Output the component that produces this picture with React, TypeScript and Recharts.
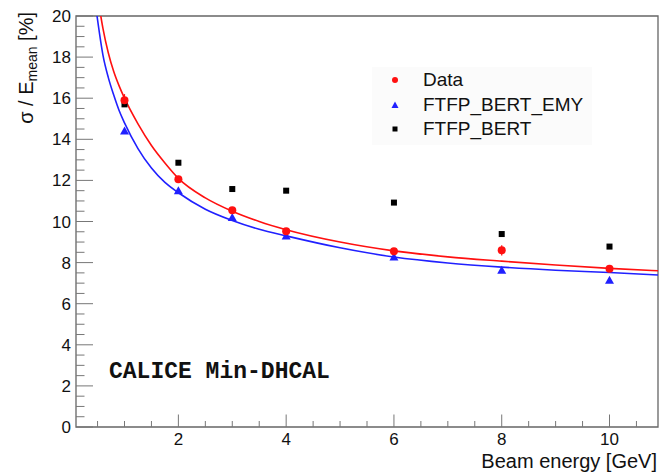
import { ComposedChart, Line, Scatter, XAxis, YAxis, ReferenceArea, Legend, ErrorBar } from 'recharts';

// measured points
const energies = [1, 2, 3, 4, 6, 8, 10];
const dataValues = [15.9, 12.05, 10.55, 9.52, 8.55, 8.6, 7.7];
const dataErrors = [0.3, 0.12, 0.12, 0.12, 0.12, 0.25, 0.12];
const emyValues = [14.4, 11.5, 10.2, 9.3, 8.27, 7.63, 7.14];
const bertValues = [15.7, 12.86, 11.58, 11.5, 10.92, 9.39, 8.78];

// fit curves
const fitDataE = [0.56, 0.6, 0.7, 0.8, 0.9, 1, 1.25, 1.5, 1.75, 2, 2.5, 3, 3.5, 4, 5, 6, 7, 8, 9, 10, 10.9];
const fitDataV = [20, 19.4, 18.2, 17.3, 16.6, 16.0, 14.75, 13.7, 12.85, 12.1, 11.15, 10.5, 10.0, 9.6, 9.0, 8.57, 8.28, 8.07, 7.88, 7.72, 7.6];
const fitEmyE = [0.49, 0.6, 0.7, 0.8, 0.9, 1, 1.25, 1.5, 1.75, 2, 2.5, 3, 3.5, 4, 5, 6, 7, 8, 9, 10, 10.9];
const fitEmyV = [20, 18.1, 17.0, 16.15, 15.4, 14.8, 13.55, 12.6, 11.9, 11.4, 10.6, 10.05, 9.62, 9.3, 8.72, 8.27, 7.98, 7.78, 7.63, 7.52, 7.4];

const majorX = [2, 4, 6, 8, 10];
const xTicks = [0.5, 1, 1.5, 2, 2.5, 3, 3.5, 4, 4.5, 5, 5.5, 6, 6.5, 7, 7.5, 8, 8.5, 9, 9.5, 10, 10.5];
const majorY = [0, 2, 4, 6, 8, 10, 12, 14, 16, 18, 20];
const yTicks = majorY.flatMap((v) => (v < 20 ? [v, v + 0.5, v + 1, v + 1.5] : [v]));

const RED = '#ff1010';
const BLUE = '#2020ff';
const FONT = '"Liberation Sans", Arial, sans-serif';

const dataPts = energies.map((x, i) => ({ x, y: dataValues[i], err: dataErrors[i] }));
const emyPts = energies.map((x, i) => ({ x, y: emyValues[i] }));
const bertPts = energies.map((x, i) => ({ x, y: bertValues[i] }));
const fitDataPts = fitDataE.map((x, i) => ({ x, y: fitDataV[i] }));
const fitEmyPts = fitEmyE.map((x, i) => ({ x, y: fitEmyV[i] }));

const XTick = (props: any) => {
  const { x, y, payload } = props;
  const major = majorX.includes(payload.value);
  const axisY = y - 7;
  return (
    <g>
      <line x1={x} x2={x} y1={axisY} y2={axisY - (major ? 12.5 : 6)} stroke="#777" />
      {major && (
        <text x={x} y={axisY + 18} textAnchor="middle" fontSize={17} fill="#111" fontFamily={FONT}>
          {payload.value}
        </text>
      )}
    </g>
  );
};

const YTick = (props: any) => {
  const { x, y, payload } = props;
  const major = majorY.includes(payload.value);
  const axisX = x + 5;
  return (
    <g>
      <line x1={axisX} x2={axisX + (major ? 17 : 8.5)} y1={y} y2={y} stroke="#777" />
      {major && (
        <text x={x} y={y + 6} textAnchor="end" fontSize={17} fill="#111" fontFamily={FONT}>
          {payload.value}
        </text>
      )}
    </g>
  );
};

const circleShape = (p: any) => <circle cx={p.cx} cy={p.cy} r={4} fill={RED} />;
const triShape = (p: any) => (
  <polygon points={`${p.cx - 4.5},${p.cy + 3.5} ${p.cx + 4.5},${p.cy + 3.5} ${p.cx},${p.cy - 4.5}`} fill={BLUE} />
);
const squareShape = (p: any) => <rect x={p.cx - 3} y={p.cy - 3} width={6} height={6} fill="#000" />;

const legendRows = [
  { name: 'Data', marker: <circle cx={8} cy={8} r={3} fill={RED} /> },
  { name: 'FTFP_BERT_EMY', marker: <polygon points="4.5,11 11.5,11 8,4.5" fill={BLUE} /> },
  { name: 'FTFP_BERT', marker: <rect x={5.5} y={5.5} width={5} height={5} fill="#000" /> },
];

const renderLegend = () => (
  <div style={{ background: '#fbfbfb', width: 220, height: 78, paddingTop: 1, boxSizing: 'border-box' }}>
    {legendRows.map((r) => (
      <div key={r.name} style={{ display: 'flex', alignItems: 'center', height: 24.5 }}>
        <svg width={16} height={16} style={{ marginLeft: 15, marginRight: 20 }}>
          {r.marker}
        </svg>
        <span style={{ fontFamily: FONT, fontSize: 19, color: '#111', lineHeight: '24px' }}>{r.name}</span>
      </div>
    ))}
  </div>
);

const yLabel = () => (
  <text transform="translate(33, 12) rotate(-90)" textAnchor="end" fontFamily={FONT} fontSize={20} fill="#111">
    σ / E<tspan fontSize={14} dy={4}>mean</tspan>
    <tspan dy={-4}> [%]</tspan>
  </text>
);

const xLabel = () => (
  <text x={657} y={468} textAnchor="end" fontFamily={FONT} fontSize={20} fill="#111">
    Beam energy [GeV]
  </text>
);

export default function App() {
  return (
    <div style={{ position: 'absolute', left: 0, top: 0, width: 660, height: 474, background: '#fff' }}>
      <ComposedChart width={660} height={474} margin={{ top: 16, right: 2, bottom: 0, left: 0 }}>
        <XAxis
          type="number"
          dataKey="x"
          domain={[0.1, 10.9]}
          allowDataOverflow
          ticks={xTicks}
          interval={0}
          tick={XTick}
          tickLine={false}
          axisLine={false}
          tickSize={0}
          tickMargin={7}
          height={47}
          label={{ content: xLabel }}
        />
        <YAxis
          type="number"
          dataKey="y"
          domain={[0, 20]}
          allowDataOverflow
          ticks={yTicks}
          interval={0}
          tick={YTick}
          tickLine={false}
          axisLine={false}
          tickSize={0}
          tickMargin={5}
          width={76}
          label={{ content: yLabel }}
        />
        <ReferenceArea x1={0.1} x2={10.9} y1={0} y2={20} fill="none" stroke="#666" strokeWidth={1.3} />
        <Line data={fitDataPts} dataKey="y" type="monotone" stroke={RED} strokeWidth={1.6} dot={false} isAnimationActive={false} legendType="none" />
        <Line data={fitEmyPts} dataKey="y" type="monotone" stroke={BLUE} strokeWidth={1.6} dot={false} isAnimationActive={false} legendType="none" />
        <Scatter data={bertPts} dataKey="y" shape={squareShape} isAnimationActive={false} />
        <Scatter data={emyPts} dataKey="y" shape={triShape} isAnimationActive={false} />
        <Scatter data={dataPts} dataKey="y" shape={circleShape} isAnimationActive={false}>
          <ErrorBar dataKey="err" direction="y" width={0} stroke={RED} strokeWidth={1.2} />
        </Scatter>
        <Legend
          layout="vertical"
          align="center"
          verticalAlign="middle"
          content={renderLegend}
          wrapperStyle={{ left: 372, top: 67, width: 220, height: 78 }}
        />
      </ComposedChart>
      <div
        style={{
          position: 'absolute',
          left: 109,
          top: 361,
          fontFamily: '"Liberation Mono", "Courier New", monospace',
          fontWeight: 'bold',
          fontSize: 23,
          lineHeight: '23px',
          color: '#111',
          whiteSpace: 'nowrap',
        }}
      >
        CALICE Min-DHCAL
      </div>
    </div>
  );
}
